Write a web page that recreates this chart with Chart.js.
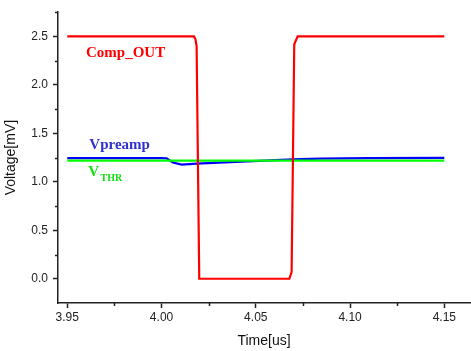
<!DOCTYPE html>
<html><head><meta charset="utf-8">
<script src="https://cdn.jsdelivr.net/npm/chart.js@4/dist/chart.umd.min.js"></script>
<style>html,body{margin:0;padding:0;background:#fff;overflow:hidden}#wrap{width:471px;height:351px}</style>
</head><body><div id="wrap"><canvas id="c" width="471" height="351"></canvas></div>
<script>
// ---- data ----
const compTime = [3.95, 4.0172, 4.0180, 4.0186, 4.0200, 4.0678, 4.0690, 4.0704, 4.0722, 4.15];
const compOut  = [2.5,  2.5,    2.47,   2.40,   0.0,    0.0,    0.07,   2.42,   2.5,    2.5];
const preTime  = [3.95, 4.000, 4.0027, 4.0060, 4.0107, 4.0186, 4.0363, 4.0575, 4.0697, 4.084, 4.11, 4.15];
const vPreamp  = [1.245, 1.245, 1.243, 1.200, 1.178, 1.188, 1.204, 1.222, 1.232, 1.240, 1.244, 1.247];
const thrTime  = [3.95, 4.15];
const vThr     = [1.219, 1.219];
const xMajorTicks = [3.95, 4.00, 4.05, 4.10, 4.15];
const xMinorTicks = [3.975, 4.025, 4.075, 4.125];
const yMajorTicks = [0.0, 0.5, 1.0, 1.5, 2.0, 2.5];
const yMinorTicks = [0.25, 0.75, 1.25, 1.75, 2.25, 2.75];
const seriesNames = ['Comp_OUT', 'Vpreamp', 'V', 'THR'];

const pts = (xs, ys) => xs.map((x, i) => ({x: x, y: ys[i]}));
const sans = '"Liberation Sans", Arial, sans-serif';
const serif = '"Liberation Serif", "Times New Roman", serif';
const axisColor = '#222';

const labelDefs = [
  {text: seriesNames[0], x: 3.9599, y: 2.285, color: '#ff0000'},
  {text: seriesNames[1], x: 3.9617, y: 1.334, color: '#3030d0'},
  {text: seriesNames[2], sub: seriesNames[3], x: 3.9611, y: 1.058, color: '#10e010'}
];

const extras = {
  id: 'extras',
  afterDraw(chart) {
    const ctx = chart.ctx, xs = chart.scales.x, ys = chart.scales.y;
    const ca = chart.chartArea;
    ctx.save();
    ctx.strokeStyle = axisColor; ctx.lineWidth = 1.5;
    xMinorTicks.forEach(v => {
      const px = Math.round(xs.getPixelForValue(v)) + 0.5;
      ctx.beginPath(); ctx.moveTo(px, ca.bottom); ctx.lineTo(px, ca.bottom + 3); ctx.stroke();
    });
    yMinorTicks.forEach(v => {
      const py = Math.round(ys.getPixelForValue(v)) + 0.5;
      ctx.beginPath(); ctx.moveTo(ca.left, py); ctx.lineTo(ca.left - 3, py); ctx.stroke();
    });
    ctx.textBaseline = 'alphabetic'; ctx.textAlign = 'left';
    labelDefs.forEach(l => {
      const px = xs.getPixelForValue(l.x), py = ys.getPixelForValue(l.y);
      ctx.fillStyle = l.color;
      ctx.font = 'bold 15px ' + serif;
      ctx.fillText(l.text, px, py);
      if (l.sub) {
        const w = ctx.measureText(l.text).width;
        ctx.font = 'bold 10px ' + serif;
        ctx.fillText(l.sub, px + w + 1.5, py + 5);
      }
    });
    ctx.restore();
  }
};

new Chart(document.getElementById('c'), {
  type: 'scatter',
  data: {
    datasets: [
      {label: 'Vpreamp', data: pts(preTime, vPreamp), showLine: true, borderColor: '#0000ff', borderWidth: 2.2, pointRadius: 0, tension: 0, order: 3},
      {label: 'VTHR', data: pts(thrTime, vThr), showLine: true, borderColor: '#00ff00', borderWidth: 2.2, pointRadius: 0, tension: 0, order: 2},
      {label: 'Comp_OUT', data: pts(compTime, compOut), showLine: true, borderColor: '#ff0000', borderWidth: 2.2, pointRadius: 0, tension: 0, order: 1}
    ]
  },
  options: {
    responsive: false, animation: false, devicePixelRatio: 1,
    layout: {padding: {top: 10, right: 1, left: 0, bottom: 0}},
    plugins: {legend: {display: false}, tooltip: {enabled: false}},
    scales: {
      x: {
        type: 'linear', min: 3.94507, max: 4.16363,
        afterBuildTicks: s => { s.ticks = xMajorTicks.map(v => ({value: v})); },
        afterFit: s => { s.height = 48; },
        ticks: {callback: v => Number(v).toFixed(2), font: {family: sans, size: 12}, color: '#222', padding: 2, maxRotation: 0, autoSkip: false},
        grid: {drawOnChartArea: false, drawTicks: true, tickLength: 5, tickColor: axisColor, tickWidth: 1.5},
        border: {display: true, color: axisColor, width: 1.5},
        title: {display: true, text: 'Time[us]', font: {family: sans, size: 14}, color: '#111', padding: {top: 0, bottom: 1}}
      },
      y: {
        type: 'linear', min: -0.25, max: 2.75,
        afterBuildTicks: s => { s.ticks = yMajorTicks.map(v => ({value: v})); },
        afterFit: s => { s.width = 58; },
        ticks: {callback: v => Number(v).toFixed(1), font: {family: sans, size: 12}, color: '#222', padding: 5},
        grid: {drawOnChartArea: false, drawTicks: true, tickLength: 5, tickColor: axisColor, tickWidth: 1.5},
        border: {display: true, color: axisColor, width: 1.5},
        title: {display: true, text: 'Voltage[mV]', font: {family: sans, size: 14}, color: '#111', padding: {top: 3, bottom: 0}}
      }
    }
  },
  plugins: [extras]
});
</script></body></html>
